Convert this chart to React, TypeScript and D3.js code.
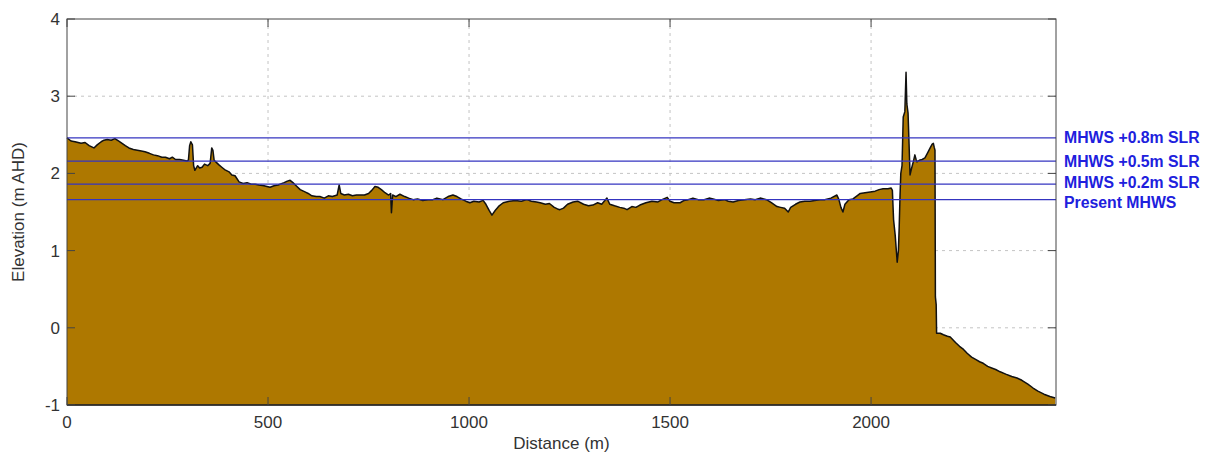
import React from "react";
import * as d3 from "d3";

const distances = [0,10,20,35,45,55,67,75,85,92,100,110,119,128,137,145,154,165,175,185,194,205,215,225,236,245,255,262,270,280,290,298,302,305,308,312,315,318,325,330,336,342,350,356,360,363,366,372,378,385,392,403,410,418,428,438,448,458,468,478,490,505,515,525,540,548,555,562,570,580,592,600,609,620,629,640,650,660,672,677,681,690,700,710,720,729,740,750,758,766,774,782,791,800,805,807,810,818,828,840,850,861,872,885,898,910,920,935,948,960,970,980,992,1002,1012,1025,1035,1042,1050,1057,1065,1075,1085,1100,1115,1130,1144,1155,1168,1177,1190,1200,1212,1220,1226,1235,1245,1259,1270,1285,1297,1308,1320,1330,1343,1350,1362,1375,1385,1393,1405,1415,1425,1440,1455,1470,1480,1493,1500,1510,1525,1535,1545,1557,1570,1585,1597,1607,1620,1635,1645,1657,1670,1685,1700,1712,1724,1740,1752,1766,1775,1785,1794,1800,1812,1823,1835,1848,1860,1873,1885,1900,1915,1920,1925,1930,1935,1945,1955,1965,1973,1985,1998,2010,2020,2030,2042,2050,2053,2056,2060,2065,2068,2070,2072,2074,2077,2080,2084,2087,2089,2092,2095,2097,2100,2105,2109,2112,2114,2120,2127,2134,2140,2147,2152,2155,2157,2159,2160,2162,2163,2172,2180,2190,2197,2210,2220,2230,2239,2250,2260,2270,2279,2290,2300,2310,2321,2335,2350,2363,2375,2390,2403,2415,2430,2445,2458];

const elevations = [2.46,2.42,2.41,2.39,2.40,2.36,2.33,2.37,2.41,2.43,2.44,2.43,2.45,2.42,2.39,2.36,2.33,2.31,2.30,2.29,2.28,2.26,2.24,2.23,2.21,2.21,2.19,2.21,2.18,2.18,2.17,2.16,2.17,2.36,2.41,2.37,2.10,2.04,2.10,2.07,2.08,2.12,2.10,2.13,2.33,2.30,2.17,2.14,2.11,2.08,2.05,2.02,1.98,1.97,1.89,1.87,1.88,1.86,1.86,1.85,1.84,1.82,1.84,1.85,1.88,1.90,1.91,1.88,1.84,1.79,1.76,1.74,1.71,1.70,1.70,1.68,1.71,1.70,1.72,1.85,1.74,1.72,1.73,1.71,1.72,1.72,1.72,1.74,1.78,1.83,1.82,1.79,1.75,1.72,1.74,1.49,1.72,1.70,1.73,1.70,1.68,1.66,1.67,1.65,1.66,1.66,1.68,1.66,1.70,1.72,1.70,1.67,1.64,1.62,1.64,1.63,1.65,1.60,1.52,1.46,1.52,1.58,1.62,1.64,1.65,1.64,1.66,1.64,1.63,1.62,1.60,1.61,1.56,1.54,1.53,1.55,1.60,1.63,1.64,1.60,1.58,1.59,1.62,1.60,1.68,1.60,1.58,1.56,1.55,1.53,1.57,1.56,1.59,1.62,1.64,1.63,1.66,1.69,1.64,1.62,1.62,1.65,1.66,1.68,1.66,1.66,1.68,1.67,1.65,1.66,1.64,1.63,1.65,1.66,1.67,1.66,1.68,1.66,1.62,1.57,1.56,1.55,1.50,1.56,1.60,1.63,1.64,1.64,1.65,1.66,1.66,1.68,1.72,1.66,1.56,1.50,1.60,1.66,1.67,1.71,1.74,1.75,1.76,1.77,1.79,1.80,1.80,1.81,1.78,1.40,1.20,0.85,1.00,1.31,1.70,2.00,2.10,2.73,2.80,3.31,2.90,2.78,2.30,1.98,2.05,2.15,2.24,2.18,2.15,2.17,2.18,2.20,2.26,2.33,2.38,2.39,2.34,2.30,0.40,0.30,-0.07,-0.07,-0.09,-0.11,-0.12,-0.19,-0.24,-0.28,-0.33,-0.38,-0.41,-0.44,-0.46,-0.50,-0.52,-0.54,-0.57,-0.60,-0.63,-0.65,-0.68,-0.73,-0.78,-0.82,-0.86,-0.89,-0.91];

const xTicks = [0, 500, 1000, 1500, 2000];
const yTicks = [-1, 0, 1, 2, 3, 4];
const levelNames = ["MHWS +0.8m SLR", "MHWS +0.5m SLR", "MHWS +0.2m SLR", "Present MHWS"];
const levelValues = [2.46, 2.16, 1.86, 1.66];
const labelOffsets = [0, 0.5, -1, 3];

export default function App() {
  const W = 1207, H = 459;
  const left = 67, right = 1056, top = 19, bottom = 405;
  const x = d3.scaleLinear().domain([0, 2460]).range([left, right]);
  const y = d3.scaleLinear().domain([-1, 4]).range([bottom, top]);
  const pts = distances.map((d, i) => [d, elevations[i]] as [number, number]);
  const area = d3.area<[number, number]>().x(d => x(d[0])).y0(y(-1)).y1(d => y(d[1]));
  const line = d3.line<[number, number]>().x(d => x(d[0])).y(d => y(d[1]));
  const font = "'Liberation Sans', Arial, sans-serif";
  return (
    <svg width={W} height={H} style={{ position: "absolute", left: 0, top: 0, background: "#fff" }}>
      <rect x={0} y={0} width={W} height={H} fill="#fff" />
      {xTicks.filter(t => t > 0).map(t => (
        <line key={"gx" + t} x1={x(t)} x2={x(t)} y1={top} y2={bottom} stroke="#c4c4c4" strokeDasharray="3,4" />
      ))}
      {yTicks.filter(t => t > -1 && t < 4).map(t => (
        <line key={"gy" + t} x1={left} x2={right} y1={y(t)} y2={y(t)} stroke="#c4c4c4" strokeDasharray="3,4" />
      ))}
      <path d={area(pts) || ""} fill="#ae7800" />
      <path d={line(pts) || ""} fill="none" stroke="#111" strokeWidth={1.5} strokeLinejoin="round" />
      {levelValues.map((v, i) => (
        <line key={"lv" + i} x1={left} x2={right} y1={y(v)} y2={y(v)} stroke="#3434c0" strokeWidth={1.3} />
      ))}
      <rect x={left} y={top} width={right - left} height={bottom - top} fill="none" stroke="#444" strokeWidth={1} />
      <line x1={left} x2={right} y1={bottom} y2={bottom} stroke="#222" strokeWidth={1.5} />
      {xTicks.map(t => (
        <g key={"tx" + t}>
          <line x1={x(t)} x2={x(t)} y1={bottom} y2={bottom - 8} stroke="#444" />
          <line x1={x(t)} x2={x(t)} y1={top} y2={top + 8} stroke="#444" />
          <text x={x(t)} y={428} textAnchor="middle" fontFamily={font} fontSize={17} fill="#333">{t}</text>
        </g>
      ))}
      {yTicks.map(t => (
        <g key={"ty" + t}>
          <line x1={left} x2={left + 8} y1={y(t)} y2={y(t)} stroke="#444" />
          <line x1={right} x2={right - 8} y1={y(t)} y2={y(t)} stroke="#444" />
          <text x={60} y={y(t) + 6} textAnchor="end" fontFamily={font} fontSize={17} fill="#333">{t}</text>
        </g>
      ))}
      <text x={(left + right) / 2} y={449} textAnchor="middle" fontFamily={font} fontSize={17} fill="#333">Distance (m)</text>
      <text transform={`translate(24,${(top + bottom) / 2}) rotate(-90)`} textAnchor="middle" fontFamily={font} fontSize={17} fill="#333">Elevation (m AHD)</text>
      {levelNames.map((n, i) => (
        <text key={"ln" + i} x={1064} y={y(levelValues[i]) + labelOffsets[i] + 5} fontFamily={font} fontWeight="bold" fontSize={15.8} fill="#2020dd">{n}</text>
      ))}
    </svg>
  );
}
